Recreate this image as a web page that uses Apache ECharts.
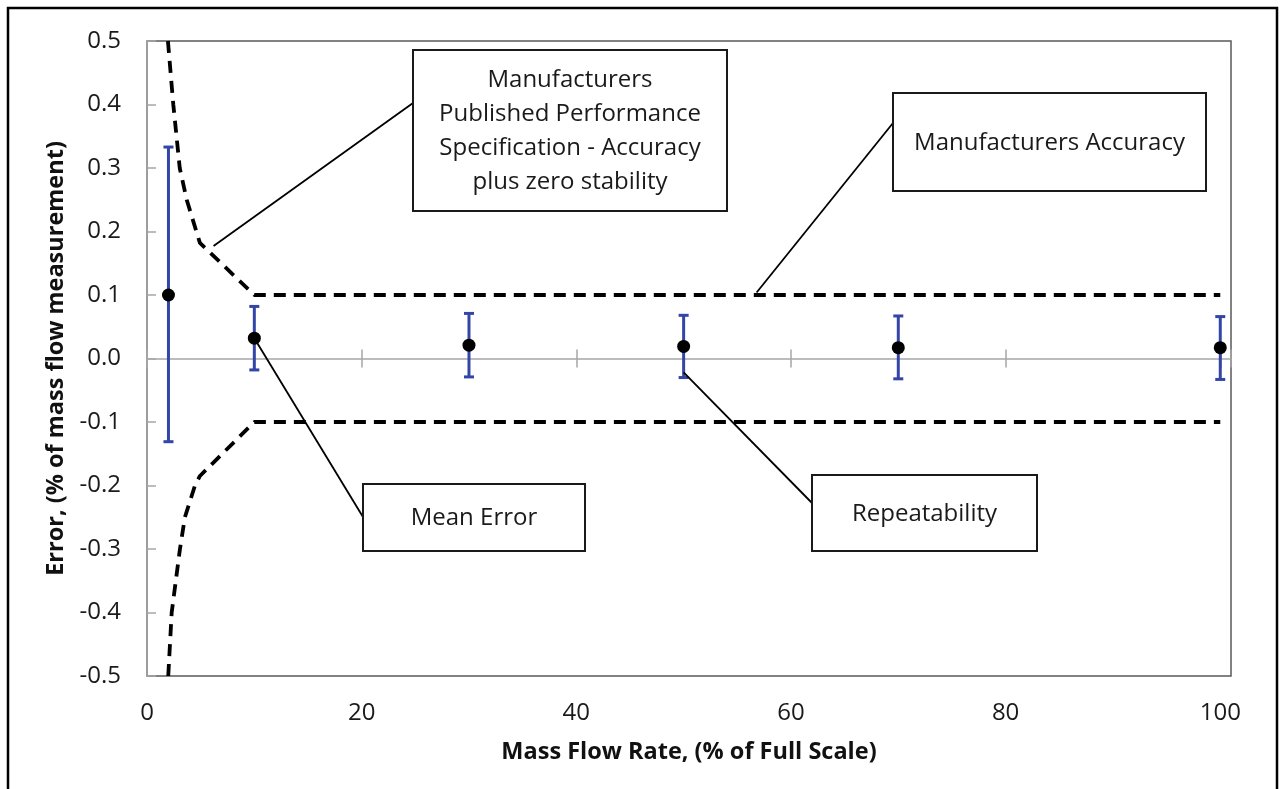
<!DOCTYPE html>
<html>
<head>
<meta charset="utf-8">
<script src="https://cdn.jsdelivr.net/npm/echarts@6/dist/echarts.min.js"></script>
<style>
html,body{margin:0;padding:0;background:#fff;}
#chart{width:1282px;height:789px;}
</style>
</head>
<body>
<div id="chart"></div>
<script>
// ---- data ----
const flowRate = [2, 10, 30, 50, 70, 100];
const meanError = [0.100, 0.032, 0.021, 0.019, 0.017, 0.017];
const repeatLow = [-0.131, -0.018, -0.029, -0.030, -0.032, -0.033];
const repeatHigh = [0.333, 0.082, 0.071, 0.068, 0.067, 0.066];

const specUpperX = [1.95, 2.45, 3.05, 3.7, 4.6, 4.93, 10, 100];
const specUpperY = [0.5, 0.4, 0.3, 0.25, 0.2, 0.182, 0.1, 0.1];
const specLowerX = [1.98, 2.3, 3.07, 3.53, 4.47, 4.93, 10, 100];
const specLowerY = [-0.5, -0.4, -0.3, -0.25, -0.2, -0.185, -0.1, -0.1];

const xTickValues = [0, 20, 40, 60, 80, 100];
const yTickValues = [-0.5, -0.4, -0.3, -0.2, -0.1, 0.0, 0.1, 0.2, 0.3, 0.4, 0.5];

const annotationTexts = [
  'Manufacturers\nPublished Performance\nSpecification - Accuracy\nplus zero stability',
  'Manufacturers Accuracy',
  'Mean Error',
  'Repeatability'
];
// data-side anchor points of the leader lines (data units)
const leaderAnchorX = [6.2, 56.8, 10, 50];
const leaderAnchorY = [0.177, 0.104, 0.032, -0.022];

// ---- layout (pixels) ----
const boxLayout = [
  {x: 413, y: 50, w: 314, h: 161, lx: 413, ly: 103},
  {x: 893, y: 93, w: 313, h: 98, lx: 893, ly: 123},
  {x: 363, y: 484, w: 222, h: 67, lx: 363, ly: 517},
  {x: 812, y: 475, w: 225, h: 76, lx: 812, ly: 503}
];

const FONT = '"Open Sans", "Noto Sans", sans-serif';
const chart = echarts.init(document.getElementById('chart'), null, {renderer: 'canvas'});

const xMax = 101;
const upperData = specUpperX.map((x, i) => [x, specUpperY[i]]);
const lowerData = specLowerX.map((x, i) => [x, specLowerY[i]]);
const meanData = flowRate.map((x, i) => [x, meanError[i]]);
const errData = flowRate.map((x, i) => [x, repeatLow[i], repeatHigh[i]]);

const hiddenAxisBase = {
  type: 'value', min: 0, max: xMax, interval: 20, position: 'bottom',
  axisLabel: {show: false}, splitLine: {show: false}
};

const option = {
  animation: false,
  backgroundColor: '#fff',
  grid: {left: 147, right: 51, top: 41, bottom: 113, show: true,
         borderColor: '#5a5a5a', borderWidth: 1.5, backgroundColor: 'transparent'},
  xAxis: [
    {
      type: 'value', min: 0, max: xMax, interval: 20, position: 'bottom',
      axisLine: {show: false, onZero: false},
      axisTick: {show: false},
      splitLine: {show: false},
      axisLabel: {
        margin: 25, fontSize: 24, fontFamily: FONT, color: '#1a1a1a',
        showMaxLabel: false,
        formatter: v => (xTickValues.indexOf(v) >= 0 ? String(v) : '')
      },
      name: 'Mass Flow Rate, (% of Full Scale)',
      nameLocation: 'middle', nameGap: 64,
      nameTextStyle: {fontSize: 23.5, fontWeight: 'bold', fontFamily: FONT, color: '#111'}
    },
    Object.assign({}, hiddenAxisBase, {
      axisLine: {show: true, onZero: true, onZeroAxisIndex: 0, lineStyle: {color: '#a6a6a6', width: 1.5}},
      axisTick: {show: true, inside: true, length: 9, lineStyle: {color: '#a6a6a6', width: 1.5}}
    }),
    Object.assign({}, hiddenAxisBase, {
      axisLine: {show: false, onZero: true, onZeroAxisIndex: 0},
      axisTick: {show: true, inside: false, length: 9, lineStyle: {color: '#a6a6a6', width: 1.5}}
    })
  ],
  yAxis: {
    type: 'value', min: -0.5, max: 0.5, interval: 0.1,
    axisLine: {show: true, onZero: false, lineStyle: {color: '#a6a6a6', width: 1.5}},
    axisTick: {show: true, inside: true, length: 9, lineStyle: {color: '#a6a6a6', width: 1.5}},
    splitLine: {show: false},
    axisLabel: {
      margin: 26, fontSize: 24, fontFamily: FONT, color: '#1a1a1a',
      formatter: v => {
        const r = Math.round(v * 10) / 10;
        return (Math.abs(r) < 1e-9 ? 0 : r).toFixed(1);
      }
    },
    name: 'Error, (% of mass flow measurement)',
    nameLocation: 'middle', nameGap: 78, nameRotate: 90,
    nameTextStyle: {fontSize: 23.5, fontWeight: 'bold', fontFamily: FONT, color: '#111'}
  },
  series: [
    {
      name: 'Spec upper', type: 'line', data: upperData, symbol: 'none', silent: true,
      lineStyle: {color: '#000', width: 3.8, type: [12, 8], cap: 'butt'}, z: 2
    },
    {
      name: 'Spec lower', type: 'line', data: lowerData, symbol: 'none', silent: true,
      lineStyle: {color: '#000', width: 3.8, type: [12, 8], cap: 'butt'}, z: 2
    },
    {
      name: 'Repeatability', type: 'custom', data: errData, z: 3,
      encode: {x: 0, y: [1, 2]},
      renderItem: function (params, api) {
        const x = api.value(0);
        const lo = api.coord([x, api.value(1)]);
        const hi = api.coord([x, api.value(2)]);
        const hw = 5;
        const st = {stroke: '#3445a8', lineWidth: 3};
        return {
          type: 'group',
          children: [
            {type: 'line', shape: {x1: lo[0], y1: lo[1], x2: hi[0], y2: hi[1]}, style: st},
            {type: 'line', shape: {x1: lo[0] - hw, y1: lo[1], x2: lo[0] + hw, y2: lo[1]}, style: st},
            {type: 'line', shape: {x1: hi[0] - hw, y1: hi[1], x2: hi[0] + hw, y2: hi[1]}, style: st}
          ]
        };
      }
    },
    {
      name: 'Mean Error', type: 'scatter', data: meanData, symbol: 'circle', symbolSize: 13,
      itemStyle: {color: '#000', opacity: 1}, z: 4
    }
  ]
};
chart.setOption(option);

function buildGraphics() {
  const g = [];
  // outer frame
  g.push({type: 'rect', shape: {x: 8, y: 8, width: 1269, height: 800},
          style: {fill: 'none', stroke: '#000', lineWidth: 2.5}, z: 100});
  boxLayout.forEach((b, i) => {
    const p = chart.convertToPixel({gridIndex: 0}, [leaderAnchorX[i], leaderAnchorY[i]]);
    g.push({type: 'line', shape: {x1: p[0], y1: p[1], x2: b.lx, y2: b.ly},
            style: {stroke: '#000', lineWidth: 1.8}, z: 50});
    g.push({type: 'rect', shape: {x: b.x, y: b.y, width: b.w, height: b.h},
            style: {fill: '#fff', stroke: '#1a1a1a', lineWidth: 2}, z: 60});
    g.push({type: 'text', x: b.x + b.w / 2, y: b.y + b.h / 2 + 1, z: 61,
            style: {text: annotationTexts[i], fill: '#1a1a1a', font: '24px ' + FONT,
                    align: 'center', verticalAlign: 'middle', lineHeight: 34}});
  });
  return g;
}
chart.setOption({graphic: buildGraphics()});
</script>
</body>
</html>
